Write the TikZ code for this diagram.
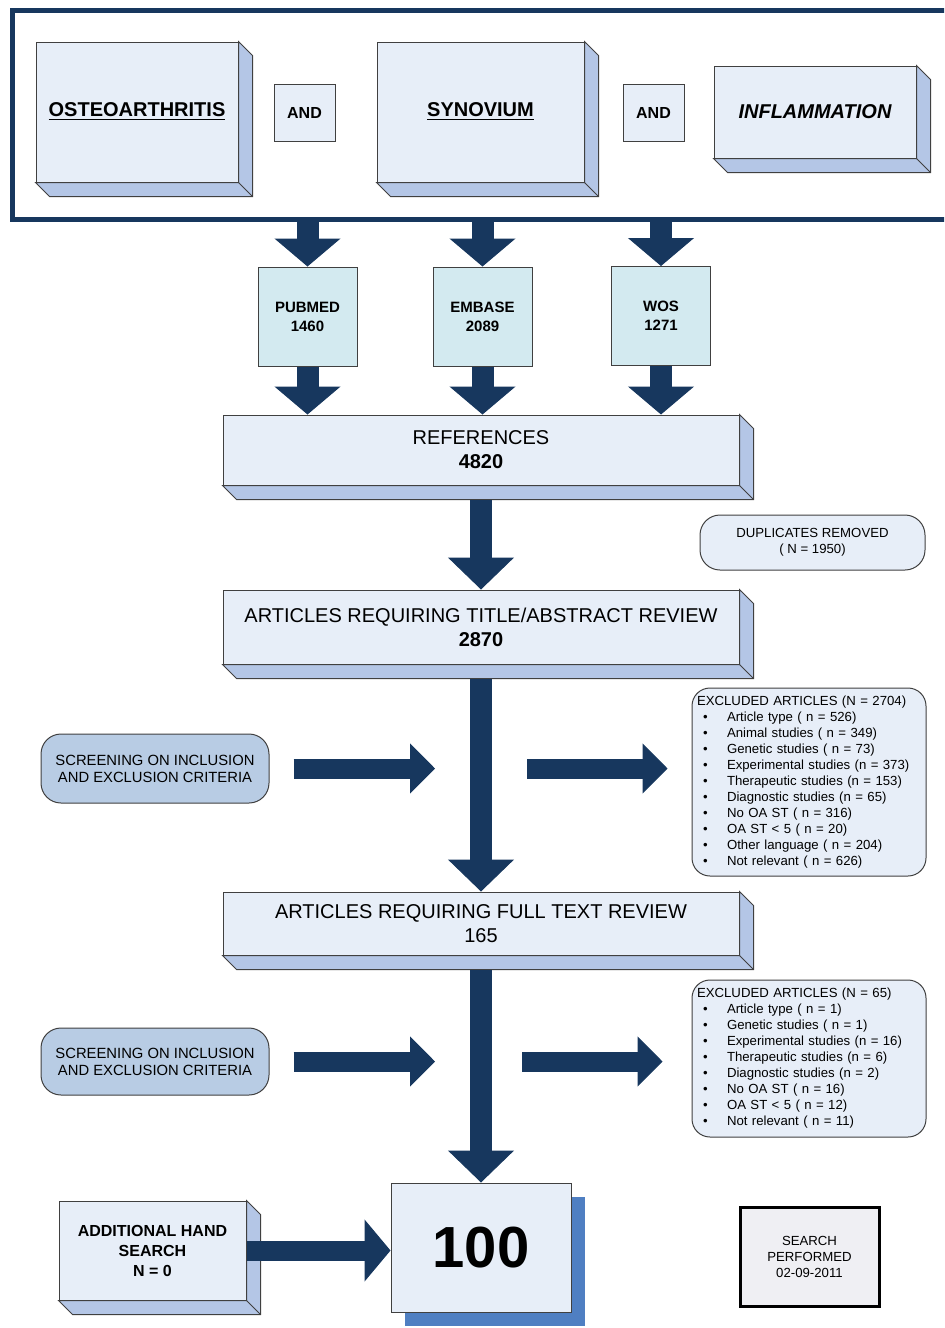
\documentclass[tikz,border=0pt]{standalone}
\usepackage{fontspec}
\setmainfont{Liberation Sans}
\usetikzlibrary{arrows.meta,positioning,calc,shadows}
\definecolor{navy}{HTML}{17375E}
\definecolor{face}{HTML}{E7EEF8}
\definecolor{side}{HTML}{B4C6E6}
\definecolor{dbfill}{HTML}{D3EAF0}
\definecolor{screenfill}{HTML}{B8CCE4}
\definecolor{finalblue}{HTML}{4F7FC2}
\definecolor{rim}{HTML}{404040}
\definecolor{stamp}{HTML}{EFEFF3}
\newcommand{\pxfont}[2]{\fontsize{#1}{#2}\selectfont}
\newcommand{\xitem}[1]{\\\hspace*{3pt}\makebox[12pt][l]{\textbullet}#1}
\newcommand{\slabsides}[1]{\draw[draw=rim,fill=side,line width=.5pt] (#1.south west) -- ++(14,14) -- ($(#1.south east)+(14,14)$) -- ($(#1.north east)+(14,14)$) -- (#1.north east) -- (#1.south east) -- cycle; \draw[rim,line width=.5pt] (#1.south east) -- ++(14,14);}
\tikzset{slab/.style={draw=rim,fill=face,line width=.5pt,inner sep=1pt,align=center},andbox/.style={draw=rim,fill=face,line width=.5pt,minimum width=30.5pt,minimum height=28.5pt,font=\bfseries\pxfont{8}{9.6}},dbbox/.style={draw=rim,fill=dbfill,line width=.5pt,minimum size=49.5pt,align=center,font=\bfseries\pxfont{7.5}{9.5}},stagebox/.style={slab,minimum width=258pt,font=\pxfont{10}{12}},pill/.style={draw=rim,rounded corners=10pt,line width=.5pt,align=center},listbox/.style={draw=rim,fill=face,rounded corners=9pt,line width=.5pt,minimum width=117pt,text width=112pt,inner xsep=2.5pt,align=left,font=\pxfont{6.6}{8}},bigarrow/.style={navy,line width=11pt,-{Triangle[length=#1,width=33pt,line width=.5pt]}},bigarrow/.default=16pt,sidearrow/.style={navy,line width=10pt,-{Triangle[length=12.5pt,width=25pt,line width=.5pt]}}}

\begin{document}
\begin{tikzpicture}[x=.5pt,y=-.5pt]
  \useasboundingbox (0,0) rectangle (944,1328);
  \clip (0,0) rectangle (944,1328);
  % search terms
  \node[draw=navy,line width=2.5pt,minimum width=470pt,minimum height=104.5pt] (terms) at (482,114.5) {};
  \node[slab,minimum width=101pt,minimum height=70pt,font=\bfseries\pxfont{10}{12}] (oa) at (137,112) {\underline{OSTEOARTHRITIS}};
  \node[andbox] (and1) at (304.5,112.5) {AND};
  \node[slab,minimum width=103.5pt,minimum height=70pt,font=\bfseries\pxfont{10}{12}] (syn) at (480.5,112) {\underline{SYNOVIUM}};
  \node[andbox] (and2) at (653.5,112.5) {AND};
  \node[slab,minimum width=101pt,minimum height=46pt,font=\bfseries\itshape\pxfont{10}{12}] (infl) at (815,112) {INFLAMMATION};
  \foreach \s in {oa,syn,infl} {\slabsides{\s}}
  % databases
  \node[dbbox] (pubmed) at (307.5,316.5) {PUBMED\\1460};
  \node[dbbox] (embase) at (482.5,316.5) {EMBASE\\2089};
  \node[dbbox] (wos) at (661,316) {WOS\\1271};
  \node[stagebox,minimum height=35pt] (refs) at (481,450) {REFERENCES\\\textbf{4820}};
  \slabsides{refs}
  \foreach \db in {pubmed,embase,wos} {
    \draw[bigarrow=14pt] (terms.south -| \db) -- (\db.north);
    \draw[bigarrow=14pt] (\db.south) -- (\db.south |- refs.north);
  }
  \node[pill,fill=face,minimum width=112.5pt,minimum height=27.5pt,font=\pxfont{6.6}{8}] (dup) at (812.5,542.5) {DUPLICATES REMOVED\\( N = 1950)};
  % screening stages
  \node[stagebox,minimum height=37pt] (title) at (481,627) {ARTICLES REQUIRING TITLE/ABSTRACT REVIEW\\\textbf{2870}};
  \node[stagebox,minimum height=31.5pt] (full) at (481,923.5) {ARTICLES REQUIRING FULL TEXT REVIEW\\165};
  \foreach \s in {title,full} {\slabsides{\s}}
  \node[pill,fill=screenfill,minimum width=114pt,minimum height=34.5pt,font=\pxfont{7.4}{8.5}] (screen1) at (155,768.5) {SCREENING ON INCLUSION\\AND EXCLUSION CRITERIA};
  \node[pill,fill=screenfill,minimum width=114pt,minimum height=33.5pt,font=\pxfont{7.4}{8.5}] (screen2) at (155,1061.5) {SCREENING ON INCLUSION\\AND EXCLUSION CRITERIA};
  \node[listbox,minimum height=94pt] (excl1) at (809,782) {EXCLUDED ARTICLES (N = 2704)\xitem{Article type ( n = 526)}\xitem{Animal studies ( n = 349)}\xitem{Genetic studies ( n = 73)}\xitem{Experimental studies (n = 373)}\xitem{Therapeutic studies (n = 153)}\xitem{Diagnostic studies (n = 65)}\xitem{No OA ST ( n = 316)}\xitem{OA ST < 5 ( n = 20)}\xitem{Other language ( n = 204)}\xitem{Not relevant ( n = 626)}};
  \node[listbox,minimum height=78.5pt] (excl2) at (809,1058.5) {EXCLUDED ARTICLES (N = 65)\xitem{Article type ( n = 1)}\xitem{Genetic studies ( n = 1)}\xitem{Experimental studies (n = 16)}\xitem{Therapeutic studies (n = 6)}\xitem{Diagnostic studies (n = 2)}\xitem{No OA ST ( n = 16)}\xitem{OA ST < 5 ( n = 12)}\xitem{Not relevant ( n = 11)}};
  % result
  \node[draw=rim,fill=face,line width=.5pt,minimum width=90pt,minimum height=64.5pt,font=\bfseries\pxfont{29}{32},drop shadow={shadow xshift=7pt,shadow yshift=-7pt,fill=finalblue,opacity=1}] (final) at (481,1247.5) {100};
  \node[slab,minimum width=93.5pt,minimum height=49.5pt,font=\bfseries\pxfont{8}{10}] (hand) at (152.5,1250.5) {ADDITIONAL HAND\\SEARCH\\N = 0};
  \slabsides{hand}
  \node[draw=black,line width=1.5pt,fill=stamp,minimum width=69.5pt,minimum height=49.5pt,align=center,font=\pxfont{6.6}{8}] (date) at (809.5,1256.5) {SEARCH\\PERFORMED\\02-09-2011};
  % flow
  \draw[bigarrow] ([yshift=-7pt]refs.south) -- (title.north);
  \draw[bigarrow] ([yshift=-7pt]title.south) -- (full.north);
  \draw[bigarrow] ([yshift=-7pt]full.south) -- (final.north);
  \draw[sidearrow] ($(screen1.east)+(24,0)$) -- ($(screen1.east -| title.south)+(-46,0)$);
  \draw[sidearrow] ($(screen1.east -| title.south)+(46,0)$) -- ($(screen1.east -| excl1.west)+(-24,0)$);
  \draw[sidearrow] ($(screen2.east)+(24,0)$) -- ($(screen2.east -| full.south)+(-46,0)$);
  \draw[sidearrow] ($(screen2.east -| full.south)+(41,0)$) -- ($(screen2.east -| excl2.west)+(-29,0)$);
  \draw[navy,line width=10pt,-{Triangle[length=13pt,width=31pt,line width=.5pt]}] (hand.east) -- (final.west |- hand.east);
\end{tikzpicture}
\end{document}
